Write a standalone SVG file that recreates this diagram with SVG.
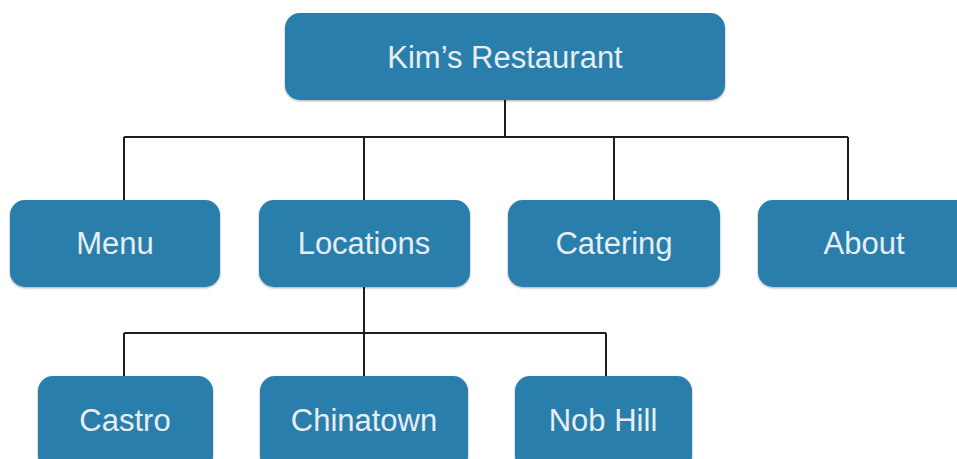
<svg xmlns="http://www.w3.org/2000/svg" width="957" height="459" viewBox="0 0 957 459">
<defs>
<filter id="sh" x="-10%" y="-10%" width="120%" height="130%">
<feDropShadow dx="0" dy="1" stdDeviation="1.2" flood-color="#000" flood-opacity="0.35"/>
</filter>
</defs>
<style>
.box{fill:#2a7eab;filter:url(#sh)}
.lbl{font-family:"Liberation Sans",Arial,sans-serif;font-size:31px;fill:#e6eef2;text-anchor:middle}
.conn{stroke:#1e1e1e;stroke-width:2;fill:none}
</style>
<rect width="957" height="459" fill="#ffffff"/>
<g id="connectors">
<path class="conn" d="M505 100V137M124 137H848M124 137V200M364 137V200M614 137V200M848 137V200"/>
<path class="conn" d="M364 287V333M124 333H606M124 333V376M364 333V376M606 333V376"/>
</g>
<g id="kims-restaurant"><rect class="box" x="285" y="13" width="440" height="87" rx="15"/><text class="lbl" x="505" y="68">Kim’s Restaurant</text></g>
<g id="menu"><rect class="box" x="10" y="200" width="210" height="87" rx="15"/><text class="lbl" x="115" y="254">Menu</text></g>
<g id="locations"><rect class="box" x="259" y="200" width="211" height="87" rx="15"/><text class="lbl" x="364" y="254">Locations</text></g>
<g id="catering"><rect class="box" x="508" y="200" width="212" height="87" rx="15"/><text class="lbl" x="614" y="254">Catering</text></g>
<g id="about"><rect class="box" x="758" y="200" width="215" height="87" rx="15"/><text class="lbl" x="864" y="254">About</text></g>
<g id="castro"><rect class="box" x="38" y="376" width="175" height="95" rx="15"/><text class="lbl" x="125" y="431">Castro</text></g>
<g id="chinatown"><rect class="box" x="260" y="376" width="208" height="95" rx="15"/><text class="lbl" x="364" y="431">Chinatown</text></g>
<g id="nob-hill"><rect class="box" x="515" y="376" width="177" height="95" rx="15"/><text class="lbl" x="603" y="431">Nob Hill</text></g>
</svg>
